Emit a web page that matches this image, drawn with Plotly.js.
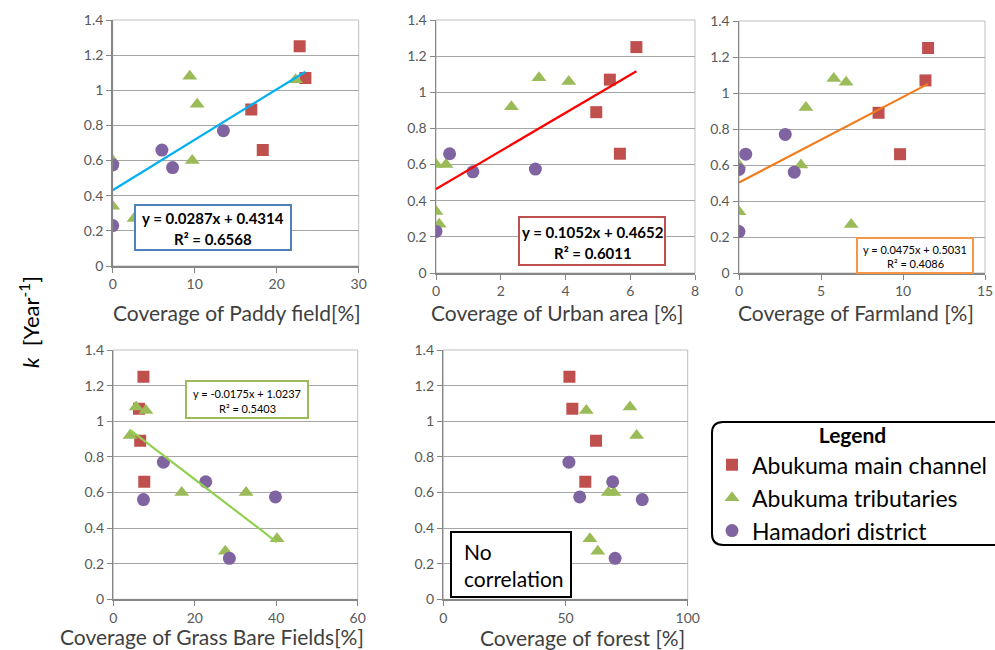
<!DOCTYPE html>
<html>
<head>
<meta charset="utf-8">
<script src="https://cdn.plot.ly/plotly-3.0.1.min.js"></script>
<style>html,body{margin:0;padding:0;background:#fff;}#chart{width:995px;height:650px;}</style>
</head>
<body>
<div id="chart"></div>
<script>
// ---- data (k values shared by all panels) ----
const seriesNames = ["Abukuma main channel", "Abukuma tributaries", "Hamadori district"];
const kMain = [1.25, 1.07, 0.89, 0.66];
const kTrib = [1.08, 1.06, 0.92, 0.60, 0.60, 0.34, 0.27];
const kHama = [0.77, 0.66, 0.575, 0.56, 0.23];

// coverage [%] for each point, in the same order as the k arrays
const paddyMain = [22.8, 23.5, 16.9, 18.3];
const paddyTrib = [9.4, 22.3, 10.3, 9.7, 0, 0, 2.6];
const paddyHama = [13.5, 6.0, 0, 7.3, 0];

const urbanMain = [6.19, 5.37, 4.95, 5.68];
const urbanTrib = [3.18, 4.10, 2.33, 0, 0.31, 0, 0.1];
const urbanHama = [null, 0.42, 3.07, 1.14, 0];

const farmMain = [11.53, 11.37, 8.51, 9.82];
const farmTrib = [5.78, 6.53, 4.08, 3.78, 0, 0, 6.84];
const farmHama = [2.82, 0.41, 0, 3.37, 0];

const grassMain = [7.4, 6.3, 6.6, 7.6];
const grassTrib = [5.6, 8.0, 4.1, 16.8, 32.6, 40.2, 27.5];
const grassHama = [12.3, 22.7, 39.8, 7.4, 28.5];

const forestMain = [51.6, 52.8, 62.5, 58.1];
const forestTrib = [76.4, 58.5, 79.1, 67.5, 69.8, 60.0, 63.2];
const forestHama = [51.4, 69.3, 55.8, 81.4, 70.3];

// trendline coefficients [slope, intercept] as printed on the chart
const paddyFit = [0.0287, 0.4314];
const urbanFit = [0.1052, 0.4652];
const farmFit = [0.0475, 0.5031];
const grassFit = [-0.0175, 1.0237];

const xTitles = ["Coverage of Paddy field[%]", "Coverage of Urban area [%]", "Coverage of Farmland [%]",
                 "Coverage of Grass Bare Fields[%]", "Coverage of forest [%]"];
const fitTexts = [
  ["y = 0.0287x + 0.4314", "R² = 0.6568"],
  ["y = 0.1052x + 0.4652", "R² = 0.6011"],
  ["y = 0.0475x + 0.5031", "R² = 0.4086"],
  ["y = -0.0175x + 1.0237", "R² = 0.5403"]
];

// ---- layout helpers ----
const W = 995, H = 650;
const px = v => v / W;
const py = v => 1 - v / H;
const FONT = "Lato, 'Open Sans', sans-serif";

const panels = [
  {xs: [paddyMain, paddyTrib, paddyHama], range: [0, 30], dtick: 10, dom: [112.7, 358.7, 20, 266],
   fit: paddyFit, fitColor: "#00B0F0", tx: 237, ty: 313},
  {xs: [urbanMain, urbanTrib, urbanHama], range: [0, 8], dtick: 2, dom: [436, 695, 20, 273],
   fit: urbanFit, fitColor: "#FF0000", tx: 557, ty: 313},
  {xs: [farmMain, farmTrib, farmHama], range: [0, 15], dtick: 5, dom: [739, 985, 21, 273],
   fit: farmFit, fitColor: "#F27C1C", tx: 856, ty: 313},
  {xs: [grassMain, grassTrib, grassHama], range: [0, 60], dtick: 20, dom: [113.3, 357.7, 350, 599.3],
   fit: grassFit, fitColor: "#92D050", tx: 212, ty: 636},
  {xs: [forestMain, forestTrib, forestHama], range: [0, 100], dtick: 50, dom: [443.3, 687.7, 350, 599.3],
   fit: null, fitColor: null, tx: 582, ty: 637}
];

const kArrays = [kMain, kTrib, kHama];
const markerStyles = [
  {symbol: "square", color: "#C0504D", size: 12},
  {symbol: "triangle-up", color: "#9BBB59", size: 13},
  {symbol: "circle", color: "#8064A2", size: 13}
];

const traces = [];
const layout = {
  width: W, height: H,
  margin: {l: 0, r: 0, t: 0, b: 0},
  paper_bgcolor: "#fff", plot_bgcolor: "#fff",
  font: {family: FONT, color: "#404040"},
  showlegend: true,
  legend: {
    x: px(712), y: py(416), xanchor: "left", yanchor: "top",
    bgcolor: "rgba(0,0,0,0)", borderwidth: 0,
    font: {family: FONT, size: 23, color: "#000"},
    title: {text: "<b>Legend</b>", side: "top center", font: {family: FONT, size: 21, color: "#000"}},
    tracegroupgap: 0, traceorder: "grouped", itemwidth: 30
  },
  shapes: [],
  annotations: []
};

panels.forEach((p, i) => {
  const n = i + 1;
  const xa = "x" + (n === 1 ? "" : n), ya = "y" + (n === 1 ? "" : n);
  const xk = "xaxis" + (n === 1 ? "" : n), yk = "yaxis" + (n === 1 ? "" : n);
  layout[xk] = {
    domain: [px(p.dom[0]), px(p.dom[1])], anchor: ya, range: p.range, dtick: p.dtick, tick0: 0,
    showgrid: false, zeroline: false, showline: true, linecolor: "#868686", linewidth: 1.5,
    ticks: "outside", ticklen: 5, tickcolor: "#868686",
    tickfont: {family: FONT, size: 14, color: "#595959"}, automargin: false, fixedrange: true
  };
  layout[yk] = {
    domain: [py(p.dom[3]), py(p.dom[2])], anchor: xa, range: [0, 1.4], dtick: 0.2, tick0: 0,
    showgrid: true, gridcolor: "#A6A6A6", gridwidth: 1, zeroline: false,
    showline: true, linecolor: "#868686", linewidth: 1.5,
    ticks: "outside", ticklen: 5, tickcolor: "#868686",
    tickfont: {family: FONT, size: 14, color: "#595959"}, automargin: false, fixedrange: true
  };
  // light frame around plot area
  layout.shapes.push({type: "rect", xref: "paper", yref: "paper", layer: "below",
    x0: px(p.dom[0]), x1: px(p.dom[1]), y0: py(p.dom[3]), y1: py(p.dom[2]),
    line: {color: "#BFBFBF", width: 1}});

  p.xs.forEach((xarr, s) => {
    traces.push({
      type: "scatter", mode: "markers", x: xarr, y: kArrays[s], xaxis: xa, yaxis: ya,
      name: seriesNames[s], legendgroup: "g" + s, showlegend: i === 0,
      marker: {symbol: markerStyles[s].symbol, color: markerStyles[s].color, size: markerStyles[s].size,
               line: {width: 0}},
      hoverinfo: "x+y"
    });
  });
  if (p.fit) {
    const all = [].concat(...p.xs).filter(v => v !== null);
    const xmin = Math.min(...all), xmax = Math.max(...all);
    traces.push({
      type: "scatter", mode: "lines", x: [xmin, xmax],
      y: [p.fit[0] * xmin + p.fit[1], p.fit[0] * xmax + p.fit[1]],
      xaxis: xa, yaxis: ya, showlegend: false, hoverinfo: "skip",
      line: {color: p.fitColor, width: 2.2}
    });
  }
  layout.annotations.push({xref: "paper", yref: "paper", x: px(p.tx), y: py(p.ty),
    xanchor: "center", yanchor: "middle", showarrow: false, text: xTitles[i],
    font: {family: FONT, size: 21, color: "#404040"}});
});

// equation boxes: [x0, x1, y0, y1, border color, centre x, line1 y, line2 y, font size, bold]
const boxes = [
  [135, 291, 205, 250, "#4F81BD", 213, 218, 239, 15, true],
  [519, 665, 217, 265, "#C0504D", 593, 232, 253, 15, true],
  [857, 973, 238, 273, "#F79646", 915, 249, 264, 11, false],
  [186, 308, 381, 418, "#9BBB59", 247, 393, 408, 11, false]
];
boxes.forEach((b, i) => {
  layout.shapes.push({type: "rect", xref: "paper", yref: "paper", x0: px(b[0]), x1: px(b[1]),
    y0: py(b[3]), y1: py(b[2]), line: {color: b[4], width: 2}, fillcolor: "#fff", layer: "above"});
  [b[6], b[7]].forEach((yy, j) => {
    const t = fitTexts[i][j];
    layout.annotations.push({xref: "paper", yref: "paper", x: px(b[5]), y: py(yy),
      xanchor: "center", yanchor: "middle", showarrow: false,
      text: b[9] ? "<b>" + t + "</b>" : t, font: {family: FONT, size: b[8], color: "#000"}});
  });
});

// "No correlation" box
layout.shapes.push({type: "rect", xref: "paper", yref: "paper", x0: px(451), x1: px(571),
  y0: py(597), y1: py(532), line: {color: "#000", width: 2}, fillcolor: "#fff", layer: "above"});
layout.annotations.push({xref: "paper", yref: "paper", x: px(462), y: py(551), xanchor: "left",
  yanchor: "middle", showarrow: false, text: "No", font: {family: FONT, size: 21, color: "#000"}});
layout.annotations.push({xref: "paper", yref: "paper", x: px(462), y: py(578), xanchor: "left",
  yanchor: "middle", showarrow: false, text: "correlation", font: {family: FONT, size: 21, color: "#000"}});

// y-axis title
layout.annotations.push({xref: "paper", yref: "paper", x: px(30), y: py(322), xanchor: "center",
  yanchor: "middle", showarrow: false, textangle: -90,
  text: "<i>k</i>  [Year<sup>-1</sup>]", font: {family: FONT, size: 22, color: "#000"}});

// rounded legend frame
(function () {
  const x0 = 712, x1 = 1010, y0 = 422, y1 = 545, r = 11;
  const X = v => px(v).toFixed(5), Y = v => py(v).toFixed(5);
  const path = "M " + X(x0 + r) + "," + Y(y0) + " L " + X(x1) + "," + Y(y0) +
    " L " + X(x1) + "," + Y(y1) + " L " + X(x0 + r) + "," + Y(y1) +
    " Q " + X(x0) + "," + Y(y1) + " " + X(x0) + "," + Y(y1 - r) +
    " L " + X(x0) + "," + Y(y0 + r) +
    " Q " + X(x0) + "," + Y(y0) + " " + X(x0 + r) + "," + Y(y0) + " Z";
  layout.shapes.push({type: "path", xref: "paper", yref: "paper", path: path,
    line: {color: "#000", width: 2}, layer: "below"});
})();

Plotly.newPlot("chart", traces, layout, {displayModeBar: false, staticPlot: true});
</script>
</body>
</html>
